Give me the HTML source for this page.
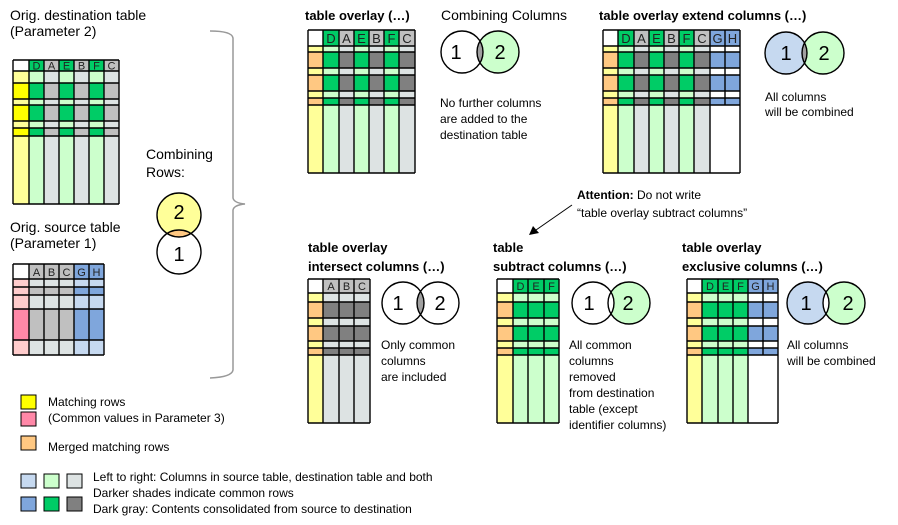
<!DOCTYPE html>
<html><head><meta charset="utf-8"><style>
html,body{margin:0;padding:0;background:#fff;}
svg{display:block;font-family:"Liberation Sans",Arial,sans-serif;}
.h{font-size:11px;fill:#222;text-anchor:middle;}
.t{font-size:14px;fill:#000;}
.b{font-size:13px;font-weight:bold;fill:#000;}
.n{font-size:12px;fill:#000;}
.v{font-size:20px;fill:#000;text-anchor:middle;}
.g{fill:none;stroke:#000;stroke-width:1.4;}
</style></head><body>
<svg width="898" height="525" viewBox="0 0 898 525" xmlns="http://www.w3.org/2000/svg">
<defs>
<clipPath id="cA"><circle cx="462" cy="52" r="21"/></clipPath>
<clipPath id="cB"><circle cx="786" cy="53" r="21"/></clipPath>
<clipPath id="cC"><circle cx="403" cy="303" r="21"/></clipPath>
<clipPath id="cD"><circle cx="179" cy="215" r="22"/></clipPath>
<clipPath id="cE"><circle cx="844" cy="303" r="21"/></clipPath>
</defs>
<!-- ===== Dest table ===== -->
<g>
<rect x="13" y="71" width="16" height="133" fill="#ffff99"/>
<rect x="29" y="71" width="15" height="133" fill="#ccffcc"/>
<rect x="44" y="71" width="15" height="133" fill="#dde3e3"/>
<rect x="59" y="71" width="15" height="133" fill="#ccffcc"/>
<rect x="74" y="71" width="15" height="133" fill="#dde3e3"/>
<rect x="89" y="71" width="15" height="133" fill="#ccffcc"/>
<rect x="104" y="71" width="15" height="133" fill="#dde3e3"/>
<rect x="13" y="60" width="106" height="11" fill="#c0c0c0"/>
<rect x="13" y="60" width="16" height="11" fill="#fff"/>
<rect x="29" y="60" width="15" height="11" fill="#00cc66"/><rect x="59" y="60" width="15" height="11" fill="#00cc66"/><rect x="89" y="60" width="15" height="11" fill="#00cc66"/>
<rect x="13" y="83" width="106" height="16" fill="#c0c0c0"/><rect x="13" y="83" width="16" height="16" fill="#ffff00"/>
<rect x="29" y="83" width="15" height="16" fill="#00cc66"/><rect x="59" y="83" width="15" height="16" fill="#00cc66"/><rect x="89" y="83" width="15" height="16" fill="#00cc66"/>
<rect x="13" y="105" width="106" height="16" fill="#c0c0c0"/><rect x="13" y="105" width="16" height="16" fill="#ffff00"/>
<rect x="29" y="105" width="15" height="16" fill="#00cc66"/><rect x="59" y="105" width="15" height="16" fill="#00cc66"/><rect x="89" y="105" width="15" height="16" fill="#00cc66"/>
<rect x="13" y="128" width="106" height="8" fill="#c0c0c0"/><rect x="13" y="128" width="16" height="8" fill="#ffff00"/>
<rect x="29" y="128" width="15" height="8" fill="#00cc66"/><rect x="59" y="128" width="15" height="8" fill="#00cc66"/><rect x="89" y="128" width="15" height="8" fill="#00cc66"/>
<path class="g" d="M13 60V204M29 60V204M44 60V204M59 60V204M74 60V204M89 60V204M104 60V204M119 60V204M13 60H119M13 71H119M13 83H119M13 99H119M13 105H119M13 121H119M13 128H119M13 136H119M13 204H119"/>
<text class="h" x="36.5" y="69.5">D</text><text class="h" x="51.5" y="69.5">A</text><text class="h" x="66.5" y="69.5">E</text><text class="h" x="81.5" y="69.5">B</text><text class="h" x="96.5" y="69.5">F</text><text class="h" x="111.5" y="69.5">C</text>
</g>
<!-- ===== Source table ===== -->
<g>
<rect x="13" y="279" width="16" height="76" fill="#ffcccc"/>
<rect x="29" y="279" width="45" height="76" fill="#dde3e3"/>
<rect x="74" y="279" width="30" height="76" fill="#c6d9f0"/>
<rect x="13" y="264" width="16" height="15" fill="#fff"/>
<rect x="29" y="264" width="45" height="15" fill="#c0c0c0"/>
<rect x="74" y="264" width="30" height="15" fill="#7fa6dc"/>
<rect x="13" y="287" width="16" height="8" fill="#ffcccc"/><rect x="29" y="287" width="45" height="8" fill="#c0c0c0"/><rect x="74" y="287" width="30" height="8" fill="#7fa6dc"/>
<rect x="13" y="309" width="16" height="31" fill="#ff88a8"/><rect x="29" y="309" width="45" height="31" fill="#c0c0c0"/><rect x="74" y="309" width="30" height="31" fill="#7fa6dc"/>
<path class="g" d="M13 264V355M29 264V355M44 264V355M59 264V355M74 264V355M89 264V355M104 264V355M13 264H104M13 279H104M13 287H104M13 295H104M13 309H104M13 340H104M13 355H104"/>
<text class="h" x="36.5" y="276">A</text><text class="h" x="51.5" y="276">B</text><text class="h" x="66.5" y="276">C</text><text class="h" x="81.5" y="276">G</text><text class="h" x="96.5" y="276">H</text>
</g>
<!-- ===== table overlay ===== -->
<g>
<rect x="308" y="46" width="15" height="127" fill="#ffff99"/>
<rect x="323" y="46" width="16" height="127" fill="#ccffcc"/><rect x="339" y="46" width="15" height="127" fill="#dde3e3"/>
<rect x="354" y="46" width="15" height="127" fill="#ccffcc"/><rect x="369" y="46" width="15" height="127" fill="#dde3e3"/>
<rect x="384" y="46" width="15" height="127" fill="#ccffcc"/><rect x="399" y="46" width="16" height="127" fill="#dde3e3"/>
<rect x="308" y="30" width="107" height="16" fill="#c0c0c0"/><rect x="308" y="30" width="15" height="16" fill="#fff"/>
<rect x="323" y="30" width="16" height="16" fill="#00cc66"/><rect x="354" y="30" width="15" height="16" fill="#00cc66"/><rect x="384" y="30" width="15" height="16" fill="#00cc66"/>
<rect x="308" y="52" width="107" height="16" fill="#808080"/><rect x="308" y="52" width="15" height="16" fill="#ffc882"/>
<rect x="323" y="52" width="16" height="16" fill="#00cc66"/><rect x="354" y="52" width="15" height="16" fill="#00cc66"/><rect x="384" y="52" width="15" height="16" fill="#00cc66"/>
<rect x="308" y="75" width="107" height="16" fill="#808080"/><rect x="308" y="75" width="15" height="16" fill="#ffc882"/>
<rect x="323" y="75" width="16" height="16" fill="#00cc66"/><rect x="354" y="75" width="15" height="16" fill="#00cc66"/><rect x="384" y="75" width="15" height="16" fill="#00cc66"/>
<rect x="308" y="98" width="107" height="7" fill="#808080"/><rect x="308" y="98" width="15" height="7" fill="#ffc882"/>
<rect x="323" y="98" width="16" height="7" fill="#00cc66"/><rect x="354" y="98" width="15" height="7" fill="#00cc66"/><rect x="384" y="98" width="15" height="7" fill="#00cc66"/>
<path class="g" d="M308 30V173M323 30V173M339 30V173M354 30V173M369 30V173M384 30V173M399 30V173M415 30V173M308 30H415M308 46H415M308 52H415M308 68H415M308 75H415M308 91H415M308 98H415M308 105H415M308 173H415"/>
<text class="h" x="331" y="43" style="font-size:13px">D</text><text class="h" x="346.5" y="43" style="font-size:13px">A</text><text class="h" x="361.5" y="43" style="font-size:13px">E</text><text class="h" x="376.5" y="43" style="font-size:13px">B</text><text class="h" x="391.5" y="43" style="font-size:13px">F</text><text class="h" x="407" y="43" style="font-size:13px">C</text>
</g>
<!-- ===== extend ===== -->
<g>
<rect x="603" y="46" width="15" height="127" fill="#ffff99"/>
<rect x="618" y="46" width="16" height="127" fill="#ccffcc"/><rect x="634" y="46" width="15" height="127" fill="#dde3e3"/>
<rect x="649" y="46" width="15" height="127" fill="#ccffcc"/><rect x="664" y="46" width="15" height="127" fill="#dde3e3"/>
<rect x="679" y="46" width="15" height="127" fill="#ccffcc"/><rect x="694" y="46" width="16" height="127" fill="#dde3e3"/>
<rect x="603" y="30" width="107" height="16" fill="#c0c0c0"/><rect x="603" y="30" width="15" height="16" fill="#fff"/>
<rect x="618" y="30" width="16" height="16" fill="#00cc66"/><rect x="649" y="30" width="15" height="16" fill="#00cc66"/><rect x="679" y="30" width="15" height="16" fill="#00cc66"/>
<rect x="710" y="30" width="30" height="16" fill="#7fa6dc"/>
<rect x="603" y="52" width="107" height="16" fill="#808080"/><rect x="603" y="52" width="15" height="16" fill="#ffc882"/>
<rect x="618" y="52" width="16" height="16" fill="#00cc66"/><rect x="649" y="52" width="15" height="16" fill="#00cc66"/><rect x="679" y="52" width="15" height="16" fill="#00cc66"/><rect x="710" y="52" width="30" height="16" fill="#7fa6dc"/>
<rect x="603" y="75" width="107" height="16" fill="#808080"/><rect x="603" y="75" width="15" height="16" fill="#ffc882"/>
<rect x="618" y="75" width="16" height="16" fill="#00cc66"/><rect x="649" y="75" width="15" height="16" fill="#00cc66"/><rect x="679" y="75" width="15" height="16" fill="#00cc66"/><rect x="710" y="75" width="30" height="16" fill="#7fa6dc"/>
<rect x="603" y="98" width="107" height="7" fill="#808080"/><rect x="603" y="98" width="15" height="7" fill="#ffc882"/>
<rect x="618" y="98" width="16" height="7" fill="#00cc66"/><rect x="649" y="98" width="15" height="7" fill="#00cc66"/><rect x="679" y="98" width="15" height="7" fill="#00cc66"/><rect x="710" y="98" width="30" height="7" fill="#7fa6dc"/>
<path class="g" d="M603 30V173M618 30V173M634 30V173M649 30V173M664 30V173M679 30V173M694 30V173M710 30V173M725 30V105M740 30V173M603 30H740M603 46H740M603 52H740M603 68H740M603 75H740M603 91H740M603 98H740M603 105H740M603 173H740"/>
<text class="h" x="626" y="43" style="font-size:13px">D</text><text class="h" x="641.5" y="43" style="font-size:13px">A</text><text class="h" x="656.5" y="43" style="font-size:13px">E</text><text class="h" x="671.5" y="43" style="font-size:13px">B</text><text class="h" x="686.5" y="43" style="font-size:13px">F</text><text class="h" x="702" y="43" style="font-size:13px">C</text><text class="h" x="717.5" y="43" style="font-size:13px">G</text><text class="h" x="732.5" y="43" style="font-size:13px">H</text>
</g>
<!-- ===== intersect ===== -->
<g>
<rect x="308" y="293" width="15" height="130" fill="#ffff99"/>
<rect x="323" y="293" width="47" height="130" fill="#dde3e3"/>
<rect x="308" y="279" width="15" height="14" fill="#fff"/><rect x="323" y="279" width="47" height="14" fill="#c0c0c0"/>
<rect x="308" y="302" width="15" height="16" fill="#ffc882"/><rect x="323" y="302" width="47" height="16" fill="#808080"/>
<rect x="308" y="326" width="15" height="15" fill="#ffc882"/><rect x="323" y="326" width="47" height="15" fill="#808080"/>
<rect x="308" y="348" width="15" height="7" fill="#ffc882"/><rect x="323" y="348" width="47" height="7" fill="#808080"/>
<path class="g" d="M308 279V423M323 279V423M339 279V423M354 279V423M370 279V423M308 279H370M308 293H370M308 302H370M308 318H370M308 326H370M308 341H370M308 348H370M308 355H370M308 423H370"/>
<text class="h" x="331" y="290">A</text><text class="h" x="346.5" y="290">B</text><text class="h" x="362" y="290">C</text>
</g>
<!-- ===== subtract ===== -->
<g>
<rect x="497" y="293" width="16" height="130" fill="#ffff99"/>
<rect x="513" y="293" width="46" height="130" fill="#ccffcc"/>
<rect x="497" y="279" width="16" height="14" fill="#fff"/><rect x="513" y="279" width="46" height="14" fill="#00cc66"/>
<rect x="497" y="302" width="16" height="16" fill="#ffc882"/><rect x="513" y="302" width="46" height="16" fill="#00cc66"/>
<rect x="497" y="326" width="16" height="15" fill="#ffc882"/><rect x="513" y="326" width="46" height="15" fill="#00cc66"/>
<rect x="497" y="348" width="16" height="7" fill="#ffc882"/><rect x="513" y="348" width="46" height="7" fill="#00cc66"/>
<path class="g" d="M497 279V423M513 279V423M528 279V423M544 279V423M559 279V423M497 279H559M497 293H559M497 302H559M497 318H559M497 326H559M497 341H559M497 348H559M497 355H559M497 423H559"/>
<text class="h" x="520.5" y="290">D</text><text class="h" x="536" y="290">E</text><text class="h" x="551.5" y="290">F</text>
</g>
<!-- ===== exclusive ===== -->
<g>
<rect x="687" y="293" width="15" height="130" fill="#ffff99"/>
<rect x="702" y="293" width="46" height="130" fill="#ccffcc"/>
<rect x="687" y="279" width="15" height="14" fill="#fff"/><rect x="702" y="279" width="46" height="14" fill="#00cc66"/><rect x="748" y="279" width="30" height="14" fill="#7fa6dc"/>
<rect x="687" y="302" width="15" height="16" fill="#ffc882"/><rect x="702" y="302" width="46" height="16" fill="#00cc66"/><rect x="748" y="302" width="30" height="16" fill="#7fa6dc"/>
<rect x="687" y="326" width="15" height="15" fill="#ffc882"/><rect x="702" y="326" width="46" height="15" fill="#00cc66"/><rect x="748" y="326" width="30" height="15" fill="#7fa6dc"/>
<rect x="687" y="348" width="15" height="7" fill="#ffc882"/><rect x="702" y="348" width="46" height="7" fill="#00cc66"/><rect x="748" y="348" width="30" height="7" fill="#7fa6dc"/>
<path class="g" d="M687 279V423M702 279V423M718 279V423M733 279V423M748 279V423M763 279V355M778 279V423M687 279H778M687 293H778M687 302H778M687 318H778M687 326H778M687 341H778M687 348H778M687 355H778M687 423H778"/>
<text class="h" x="710" y="290">D</text><text class="h" x="725.5" y="290">E</text><text class="h" x="740.5" y="290">F</text><text class="h" x="755.5" y="290">G</text><text class="h" x="770.5" y="290">H</text>
</g>
<!-- ===== Venn diagrams ===== -->
<circle cx="498" cy="52" r="21" fill="#ccffcc"/><circle cx="462" cy="52" r="21" fill="#fff"/>
<circle cx="498" cy="52" r="21" fill="#a0a0a0" clip-path="url(#cA)"/>
<circle cx="462" cy="52" r="21" class="g" stroke-width="1"/><circle cx="498" cy="52" r="21" class="g" stroke-width="1"/>
<text class="v" x="456" y="59">1</text><text class="v" x="500" y="59">2</text>
<circle cx="786" cy="53" r="21" fill="#c6d9f0"/><circle cx="823" cy="53" r="21" fill="#ccffcc"/>
<circle cx="823" cy="53" r="21" fill="#a0a0a0" clip-path="url(#cB)"/>
<circle cx="786" cy="53" r="21" class="g" stroke-width="1"/><circle cx="823" cy="53" r="21" class="g" stroke-width="1"/>
<text class="v" x="786" y="60">1</text><text class="v" x="824" y="60">2</text>
<circle cx="438" cy="303" r="21" fill="#a0a0a0" clip-path="url(#cC)"/>
<circle cx="403" cy="303" r="21" class="g" stroke-width="1"/><circle cx="438" cy="303" r="21" class="g" stroke-width="1"/>
<text class="v" x="398" y="310">1</text><text class="v" x="440" y="310">2</text>
<circle cx="629" cy="303" r="21" fill="#ccffcc"/><circle cx="593" cy="303" r="21" fill="#fff"/>
<circle cx="593" cy="303" r="21" class="g" stroke-width="1"/><circle cx="629" cy="303" r="21" class="g" stroke-width="1"/>
<text class="v" x="589" y="310">1</text><text class="v" x="628" y="310">2</text>
<circle cx="808" cy="303" r="21" fill="#c6d9f0"/><circle cx="844" cy="303" r="21" fill="#ccffcc"/>
<circle cx="808" cy="303" r="21" fill="#fff" clip-path="url(#cE)"/>
<circle cx="808" cy="303" r="21" class="g" stroke-width="1"/><circle cx="844" cy="303" r="21" class="g" stroke-width="1"/>
<text class="v" x="806" y="310">1</text><text class="v" x="848" y="310">2</text>
<circle cx="179" cy="215" r="22" fill="#ffff99"/><circle cx="179" cy="252" r="22" fill="#fff"/>
<circle cx="179" cy="252" r="22" fill="#ffc882" clip-path="url(#cD)"/>
<circle cx="179" cy="215" r="22" class="g" stroke-width="1"/><circle cx="179" cy="252" r="22" class="g" stroke-width="1"/>
<text class="v" x="179" y="219">2</text><text class="v" x="179" y="261">1</text>
<path d="M210 31 Q232 31 233 38 V198 Q234 203 245 204 Q234 205 233 210 V370 Q232 377 210 378" fill="none" stroke="#999" stroke-width="1.5"/>
<line x1="572" y1="205" x2="536" y2="230" stroke="#000" stroke-width="1"/>
<path d="M529 235 L533 226 L539 233 Z" fill="#000"/>
<text class="t" x="10" y="20">Orig. destination table</text>
<text class="t" x="10" y="36">(Parameter 2)</text>
<text class="t" x="10" y="232">Orig. source table</text>
<text class="t" x="10" y="248">(Parameter 1)</text>
<text class="t" x="146" y="159">Combining</text>
<text class="t" x="146" y="177">Rows:</text>
<text class="b" x="305" y="20">table overlay (…)</text>
<text class="t" x="441" y="20">Combining Columns</text>
<text class="b" x="599" y="20">table overlay extend columns (…)</text>
<text class="n" x="440" y="107">No further columns</text>
<text class="n" x="440" y="123">are added to the</text>
<text class="n" x="440" y="139">destination table</text>
<text class="n" x="765" y="101">All columns</text>
<text class="n" x="765" y="116">will be combined</text>
<text class="n" x="577" y="199"><tspan font-weight="bold">Attention:</tspan> Do not write</text>
<text class="n" x="577" y="217">“table overlay subtract columns”</text>
<text class="b" x="308" y="252">table overlay</text>
<text class="b" x="308" y="271">intersect columns (…)</text>
<text class="b" x="493" y="252">table</text>
<text class="b" x="493" y="271">subtract columns (…)</text>
<text class="b" x="682" y="252">table overlay</text>
<text class="b" x="682" y="271">exclusive columns (…)</text>
<text class="n" x="381" y="349">Only common</text>
<text class="n" x="381" y="365">columns</text>
<text class="n" x="381" y="381">are included</text>
<text class="n" x="569" y="349">All common</text>
<text class="n" x="569" y="365">columns</text>
<text class="n" x="569" y="381">removed</text>
<text class="n" x="569" y="397">from destination</text>
<text class="n" x="569" y="413">table (except</text>
<text class="n" x="569" y="429">identifier columns)</text>
<text class="n" x="787" y="349">All columns</text>
<text class="n" x="787" y="365">will be combined</text>
<rect x="21" y="395" width="15" height="14" fill="#ffff00" stroke="#000"/>
<rect x="21" y="412" width="15" height="14" fill="#ff88a8" stroke="#000"/>
<rect x="21" y="436" width="15" height="14" fill="#ffc882" stroke="#000"/>
<text class="n" x="48" y="406">Matching rows</text>
<text class="n" x="48" y="422">(Common values in Parameter 3)</text>
<text class="n" x="48" y="451">Merged matching rows</text>
<rect x="21" y="474" width="15" height="14" fill="#c6d9f0" stroke="#000"/>
<rect x="44" y="474" width="15" height="14" fill="#ccffcc" stroke="#000"/>
<rect x="67" y="474" width="15" height="14" fill="#dde3e3" stroke="#000"/>
<rect x="21" y="497" width="15" height="14" fill="#7fa6dc" stroke="#000"/>
<rect x="44" y="497" width="15" height="14" fill="#00cc66" stroke="#000"/>
<rect x="67" y="497" width="15" height="14" fill="#808080" stroke="#000"/>
<text class="n" x="93" y="481">Left to right: Columns in source table, destination table and both</text>
<text class="n" x="93" y="497">Darker shades indicate common rows</text>
<text class="n" x="93" y="513">Dark gray: Contents consolidated from source to destination</text>
</svg>
</body></html>
